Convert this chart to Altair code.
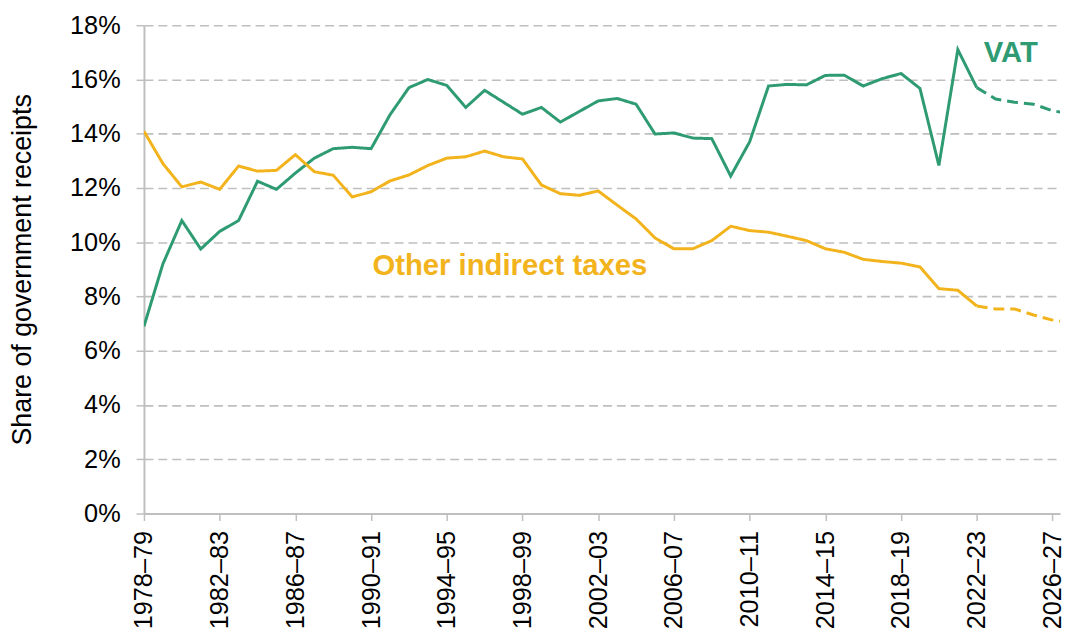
import json
import altair as alt
import pandas as pd

# ---- data -------------------------------------------------------------
years = [f"{y}\u2013{str(y + 1)[-2:]}" for y in range(1978, 2028)]

vat = [6.9, 9.2, 10.8, 9.75, 10.4, 10.8, 12.25, 11.95, 12.55, 13.1,
       13.45, 13.5, 13.45, 14.7, 15.7, 16.0, 15.78, 14.97, 15.6, 15.16,
       14.72, 14.97, 14.43, 14.82, 15.21, 15.3, 15.09, 13.99, 14.03, 13.84,
       13.82, 12.44, 13.7, 15.76, 15.82, 15.8, 16.15, 16.16, 15.76, 16.03,
       16.22, 15.67, 12.83, 17.1, 15.7, 15.28, 15.16, 15.09, 14.85, 14.73]

other = [14.09, 12.9, 12.04, 12.22, 11.95, 12.81, 12.62, 12.65, 13.23, 12.6,
         12.47, 11.67, 11.86, 12.26, 12.48, 12.83, 13.1, 13.15, 13.36, 13.15,
         13.07, 12.11, 11.79, 11.73, 11.89, 11.37, 10.86, 10.16, 9.76, 9.76,
         10.06, 10.59, 10.43, 10.37, 10.22, 10.06, 9.76, 9.63, 9.37, 9.29,
         9.23, 9.09, 8.29, 8.23, 7.65, 7.54, 7.54, 7.32, 7.13, 7.03]

series_names = ["VAT", "Other indirect taxes"]
series_colors = ["#2E9B72", "#F2B31C"]
forecast_start = 44  # 2022-23 is last outturn year

label_text = ["VAT", "Other indirect taxes"]
label_idx = [45.8, 19.33]
label_val = [16.96, 9.13]

# ---- tables -----------------------------------------------------------
rows = []
for i in range(len(years)):
    for name, arr in zip(series_names, (vat, other)):
        if i <= forecast_start:
            rows.append(dict(idx=i, year=years[i], value=arr[i], series=name, part="outturn"))
        if i >= forecast_start:
            rows.append(dict(idx=i, year=years[i], value=arr[i], series=name, part="forecast"))
df = pd.DataFrame(rows)

df_lab = pd.DataFrame(dict(text=label_text, idx=label_idx, value=label_val, series=series_names))

FONT = "Liberation Sans, Arial, Helvetica, sans-serif"
GREY = "#BFBFBF"

x_scale = alt.Scale(domain=[0, 48.4], nice=False, zero=False)
y_scale = alt.Scale(domain=[0, 18], nice=False)
color_scale = alt.Scale(domain=series_names, range=series_colors)

x_axis = alt.Axis(
    values=list(range(49)),
    labelExpr=f"datum.value % 4 == 0 ? {json.dumps(years)}[datum.value] : ''",
    labelAngle=270, labelAlign="right", labelBaseline="middle",
    labelOverlap=False, labelFlush=False, labelBound=False,
    labelPadding=10, tickSize=7, grid=False, title=None,
)
y_axis = alt.Axis(
    values=list(range(0, 19, 2)),
    labelExpr="datum.value + '%'",
    tickSize=8, labelPadding=16,
    grid=True, gridDash=[9, 5], gridColor=GREY, gridWidth=1.6,
    title="Share of government receipts",
    titleAngle=270, titleX=-122, titleY=246,
    titleAlign="center", titleBaseline="middle",
)

lines = alt.Chart(df).mark_line(strokeWidth=3, clip=True).encode(
    x=alt.X("idx:Q", scale=x_scale, axis=x_axis),
    y=alt.Y("value:Q", scale=y_scale, axis=y_axis),
    color=alt.Color("series:N", scale=color_scale, legend=None),
    strokeDash=alt.StrokeDash(
        "part:N",
        scale=alt.Scale(domain=["outturn", "forecast"], range=[[1, 0], [11, 6]]),
        legend=None,
    ),
    detail="part:N",
)

labels = alt.Chart(df_lab).mark_text(
    fontWeight="bold", fontSize=29.5, font=FONT, align="center", baseline="middle"
).encode(
    x=alt.X("idx:Q", scale=x_scale),
    y=alt.Y("value:Q", scale=y_scale),
    text="text:N",
    color=alt.Color("series:N", scale=color_scale, legend=None),
)

chart = (
    alt.layer(lines, labels)
    .properties(
        width=923, height=492,
        autosize=alt.AutoSizeParams(type="none"),
        padding={"left": 137, "top": 15, "right": 2, "bottom": 114},
    )
    .configure_view(stroke=None)
    .configure_axis(
        labelFont=FONT, titleFont=FONT, labelFontSize=25.5, titleFontSize=27,
        labelColor="#000000", titleColor="#000000", titleFontWeight="normal",
        domainColor=GREY, domainWidth=2, tickColor=GREY, tickWidth=1.5,
    )
)

chart.save("out.html", embed_options={"renderer": "svg", "actions": False})
